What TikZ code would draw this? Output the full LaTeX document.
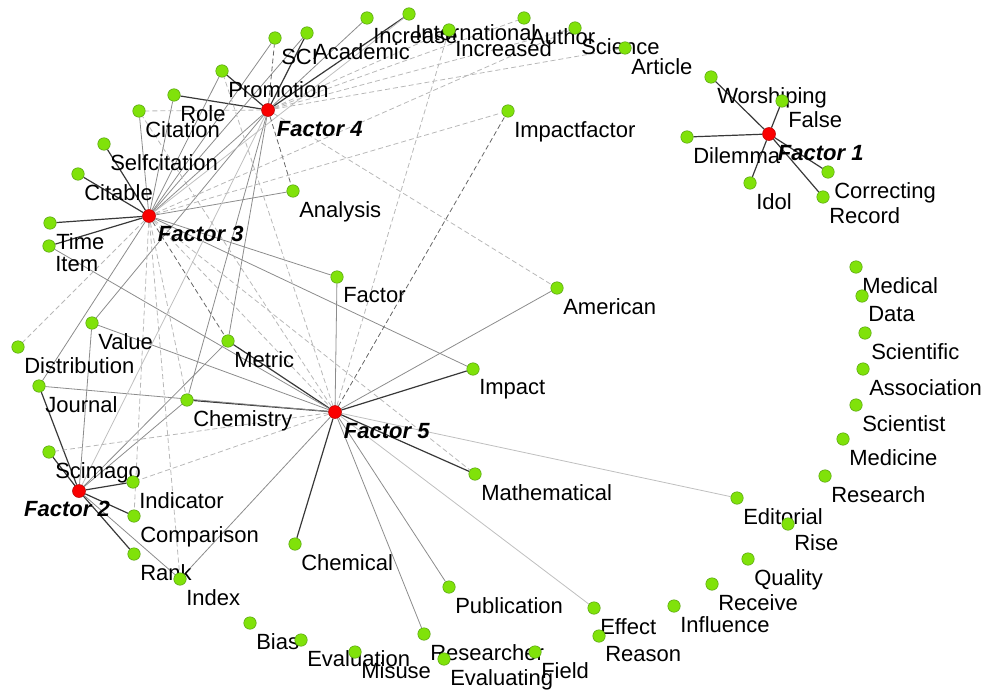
\documentclass[tikz,border=0pt]{standalone}
\usepackage{fontspec}
\setmainfont{Liberation Sans}
\usetikzlibrary{positioning, backgrounds}
\definecolor{leafgreen}{RGB}{128,226,10}
\definecolor{leafedge}{RGB}{86,160,16}
\definecolor{hubred}{RGB}{250,0,0}

\begin{document}
\begin{tikzpicture}[
  x=1pt, y=-1pt,
  word/.style={circle, draw=leafedge, fill=leafgreen, line width=0.5pt, minimum size=12.5pt, inner sep=0pt},
  hub/.style={circle, draw=red!70!black, fill=hubred, line width=0.5pt, minimum size=13pt, inner sep=0pt},
  lbl/.style={inner sep=0pt, font=\fontsize{22}{24}\selectfont},
  hublbl/.style={inner sep=0pt, font=\fontsize{22}{24}\selectfont\bfseries\itshape},
  strongedge/.style={draw=black!78, line width=1.2pt},
  midedge/.style={draw=black!45, line width=0.8pt},
  lightedge/.style={draw=black!25, line width=0.8pt},
  dashdark/.style={draw=black!60, line width=0.8pt, dash pattern=on 5pt off 3pt},
  dashlight/.style={draw=black!28, line width=0.8pt, dash pattern=on 5pt off 3pt},
]
  \useasboundingbox (0,0) rectangle (990,690);

  % factors
  \node[hub] (f1) at (769,134) {};
  \node[hub] (f2) at (79,491) {};
  \node[hub] (f3) at (149,216) {};
  \node[hub] (f4) at (268,110) {};
  \node[hub] (f5) at (335,412) {};

  % words
  \node[word] (sci)  at (275,38) {};
  \node[word] (acad) at (307,33) {};
  \node[word] (incr) at (367,18) {};
  \node[word] (intl) at (409,14) {};
  \node[word] (incd) at (449,30) {};
  \node[word] (auth) at (524,18) {};
  \node[word] (scie) at (575,28) {};
  \node[word] (arti) at (625,48) {};
  \node[word] (prom) at (222,71) {};
  \node[word] (role) at (174,95) {};
  \node[word] (cita) at (139,111) {};
  \node[word] (self) at (104,144) {};
  \node[word] (ctbl) at (78,174) {};
  \node[word] (time) at (50,223) {};
  \node[word] (item) at (49,246) {};
  \node[word] (impf) at (508,111) {};
  \node[word] (anal) at (293,191) {};
  \node[word] (wors) at (711,77) {};
  \node[word] (fals) at (782,101) {};
  \node[word] (dile) at (687,137) {};
  \node[word] (corr) at (828,172) {};
  \node[word] (idol) at (750,183) {};
  \node[word] (reco) at (823,197) {};
  \node[word] (fact) at (337,277) {};
  \node[word] (amer) at (557,288) {};
  \node[word] (dist) at (18,347) {};
  \node[word] (valu) at (92,323) {};
  \node[word] (metr) at (228,341) {};
  \node[word] (jour) at (39,386) {};
  \node[word] (chmy) at (187,400) {};
  \node[word] (impa) at (473,369) {};
  \node[word] (math) at (475,474) {};
  \node[word] (scim) at (49,452) {};
  \node[word] (indi) at (133,482) {};
  \node[word] (comp) at (134,516) {};
  \node[word] (rank) at (134,554) {};
  \node[word] (indx) at (180,579) {};
  \node[word] (chem) at (295,544) {};
  \node[word] (bias) at (250,623) {};
  \node[word] (eval) at (301,640) {};
  \node[word] (misu) at (355,652) {};
  \node[word] (rsch) at (424,634) {};
  \node[word] (publ) at (449,587) {};
  \node[word] (evlg) at (444,659) {};
  \node[word] (fiel) at (535,652) {};
  \node[word] (effe) at (594,608) {};
  \node[word] (reas) at (599,636) {};
  \node[word] (infl) at (674,606) {};
  \node[word] (rece) at (712,584) {};
  \node[word] (qual) at (748,559) {};
  \node[word] (rise) at (788,524) {};
  \node[word] (edit) at (737,498) {};
  \node[word] (rsrc) at (825,476) {};
  \node[word] (medi) at (843,439) {};
  \node[word] (scit) at (856,405) {};
  \node[word] (asso) at (863,369) {};
  \node[word] (scfc) at (865,333) {};
  \node[word] (data) at (862,296) {};
  \node[word] (medl) at (856,267) {};

  \begin{scope}[on background layer]
  % edges
  \draw[strongedge] (f1) -- (wors);
  \draw[strongedge] (f1) -- (fals);
  \draw[strongedge] (f1) -- (dile);
  \draw[strongedge] (f1) -- (corr);
  \draw[strongedge] (f1) -- (idol);
  \draw[strongedge] (f1) -- (reco);
  \draw[strongedge] (f2) -- (scim);
  \draw[strongedge] (f2) -- (indi);
  \draw[strongedge] (f2) -- (comp);
  \draw[strongedge] (f2) -- (rank);
  \draw[strongedge] (f2) -- (jour);
  \draw[strongedge] (f3) -- (ctbl);
  \draw[strongedge] (f3) -- (self);
  \draw[strongedge] (f3) -- (time);
  \draw[strongedge] (f3) -- (item);
  \draw[strongedge] (f4) -- (prom);
  \draw[strongedge] (f4) -- (role);
  \draw[strongedge] (f4) -- (acad);
  \draw[strongedge] (f4) -- (intl);
  \draw[strongedge] (f5) -- (metr);
  \draw[strongedge] (f5) -- (chmy);
  \draw[strongedge] (f5) -- (impa);
  \draw[strongedge] (f5) -- (math);
  \draw[strongedge] (f5) -- (chem);

  \draw[midedge] (f3) -- (role);
  \draw[midedge] (f3) -- (cita);
  \draw[midedge] (f3) -- (sci);
  \draw[midedge] (f3) -- (acad);
  \draw[midedge] (f3) -- (prom);
  \draw[midedge] (f3) -- (f4);
  \draw[midedge] (f3) -- (fact);
  \draw[midedge] (f3) -- (anal);
  \draw[midedge] (f3) -- (impa);
  \draw[midedge] (f3) -- (jour);
  \draw[midedge] (f4) -- (incr);
  \draw[midedge] (f4) -- (metr);
  \draw[midedge] (f4) -- (chmy);
  \draw[midedge] (f4) -- (valu);
  \draw[midedge] (f5) -- (fact);
  \draw[midedge] (f5) -- (amer);
  \draw[midedge] (f5) -- (valu);
  \draw[midedge] (f5) -- (item);
  \draw[midedge] (f5) -- (jour);
  \draw[midedge] (f5) -- (rsch);
  \draw[midedge] (f5) -- (indx);
  \draw[midedge] (f5) -- (publ);
  \draw[midedge] (f2) -- (indx);
  \draw[midedge] (f2) -- (metr);
  \draw[midedge] (f2) -- (chmy);
  \draw[midedge] (f2) -- (valu);

  \draw[lightedge] (f5) -- (edit);
  \draw[lightedge] (f5) -- (effe);
  \draw[lightedge] (f3) -- (intl);
  \draw[lightedge] (f2) -- (f4);

  \draw[dashdark] (f4) -- (anal);
  \draw[dashdark] (f3) -- (metr);
  \draw[dashdark] (f5) -- (impf);
  \draw[dashdark] (f4) -- (sci);

  \draw[dashlight] (f4) -- (cita);
  \draw[dashlight] (f4) -- (incd);
  \draw[dashlight] (f4) -- (auth);
  \draw[dashlight] (f4) -- (scie);
  \draw[dashlight] (f4) -- (arti);
  \draw[dashlight] (f4) -- (amer);
  \draw[dashlight] (f3) -- (impf);
  \draw[dashlight] (f3) -- (dist);
  \draw[dashlight] (f3) -- (math);
  \draw[dashlight] (f3) -- (f5);
  \draw[dashlight] (f3) -- (comp);
  \draw[dashlight] (f3) -- (indx);
  \draw[dashlight] (f3) -- (chmy);
  \draw[dashlight] (f3) -- (scie);
  \draw[dashlight] (f5) -- (incd);
  \draw[dashlight] (f5) -- (prom);
  \draw[dashlight] (f5) -- (cita);
  \draw[dashlight] (f5) -- (scim);
  \draw[dashlight] (f5) -- (indi);

  % labels
  \node[hublbl, below right=6pt and 4pt of f1] {Factor 1};
  \node[hublbl, below=3.5pt of f2, xshift=-12pt] {Factor 2};
  \node[hublbl, below right=5pt and 4pt of f3] {Factor 3};
  \node[hublbl, below right=6pt and 4pt of f4] {Factor 4};
  \node[hublbl, below right=6pt and 4pt of f5] {Factor 5};

  \node[lbl, below right=6pt and 1.5pt of sci]  {SCI};
  \node[lbl, below right=6pt and 1.5pt of acad] {Academic};
  \node[lbl, below right=6pt and 1.5pt of incr] {Increase};
  \node[lbl, below right=6pt and 1.5pt of intl] {International};
  \node[lbl, below right=6pt and 1.5pt of incd] {Increased};
  \node[lbl, below right=6pt and 1.5pt of auth] {Author};
  \node[lbl, below right=6pt and 1.5pt of scie] {Science};
  \node[lbl, below right=6pt and 1.5pt of arti] {Article};
  \node[lbl, below right=6pt and 1.5pt of prom] {Promotion};
  \node[lbl, below right=6pt and 1.5pt of role] {Role};
  \node[lbl, below right=6pt and 1.5pt of cita] {Citation};
  \node[lbl, below right=6pt and 1.5pt of self] {Selfcitation};
  \node[lbl, below right=6pt and 1.5pt of ctbl] {Citable};
  \node[lbl, below right=6pt and 1.5pt of time] {Time};
  \node[lbl, below right=6pt and 1.5pt of item] {Item};
  \node[lbl, below right=6pt and 1.5pt of impf] {Impactfactor};
  \node[lbl, below right=6pt and 1.5pt of anal] {Analysis};
  \node[lbl, below right=6pt and 1.5pt of wors] {Worshiping};
  \node[lbl, below right=6pt and 1.5pt of fals] {False};
  \node[lbl, below right=6pt and 1.5pt of dile] {Dilemma};
  \node[lbl, below right=6pt and 1.5pt of corr] {Correcting};
  \node[lbl, below right=6pt and 1.5pt of idol] {Idol};
  \node[lbl, below right=6pt and 1.5pt of reco] {Record};
  \node[lbl, below right=6pt and 1.5pt of fact] {Factor};
  \node[lbl, below right=6pt and 1.5pt of amer] {American};
  \node[lbl, below right=6pt and 1.5pt of dist] {Distribution};
  \node[lbl, below right=6pt and 1.5pt of valu] {Value};
  \node[lbl, below right=6pt and 1.5pt of metr] {Metric};
  \node[lbl, below right=6pt and 1.5pt of jour] {Journal};
  \node[lbl, below right=6pt and 1.5pt of chmy] {Chemistry};
  \node[lbl, below right=6pt and 1.5pt of impa] {Impact};
  \node[lbl, below right=6pt and 1.5pt of math] {Mathematical};
  \node[lbl, below right=6pt and 1.5pt of scim] {Scimago};
  \node[lbl, below right=6pt and 1.5pt of indi] {Indicator};
  \node[lbl, below right=6pt and 1.5pt of comp] {Comparison};
  \node[lbl, below right=6pt and 1.5pt of rank] {Rank};
  \node[lbl, below right=6pt and 1.5pt of indx] {Index};
  \node[lbl, below right=6pt and 1.5pt of chem] {Chemical};
  \node[lbl, below right=6pt and 1.5pt of bias] {Bias};
  \node[lbl, below right=6pt and 1.5pt of eval] {Evaluation};
  \node[lbl, below right=6pt and 1.5pt of misu] {Misuse};
  \node[lbl, below right=6pt and 1.5pt of rsch] {Researcher};
  \node[lbl, below right=6pt and 1.5pt of publ] {Publication};
  \node[lbl, below right=6pt and 1.5pt of evlg] {Evaluating};
  \node[lbl, below right=6pt and 1.5pt of fiel] {Field};
  \node[lbl, below right=6pt and 1.5pt of effe] {Effect};
  \node[lbl, below right=6pt and 1.5pt of reas] {Reason};
  \node[lbl, below right=6pt and 1.5pt of infl] {Influence};
  \node[lbl, below right=6pt and 1.5pt of rece] {Receive};
  \node[lbl, below right=6pt and 1.5pt of qual] {Quality};
  \node[lbl, below right=6pt and 1.5pt of rise] {Rise};
  \node[lbl, below right=6pt and 1.5pt of edit] {Editorial};
  \node[lbl, below right=6pt and 1.5pt of rsrc] {Research};
  \node[lbl, below right=6pt and 1.5pt of medi] {Medicine};
  \node[lbl, below right=6pt and 1.5pt of scit] {Scientist};
  \node[lbl, below right=6pt and 1.5pt of asso] {Association};
  \node[lbl, below right=6pt and 1.5pt of scfc] {Scientific};
  \node[lbl, below right=6pt and 1.5pt of data] {Data};
  \node[lbl, below right=6pt and 1.5pt of medl] {Medical};
  \end{scope}
\end{tikzpicture}
\end{document}
